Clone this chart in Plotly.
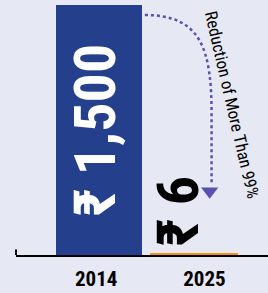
import plotly.graph_objects as go

years = ["2014", "2025"]
prices = [1500, 6]
price_labels = ["₹ 1,500", "₹ 6"]
bar_colors = ["#243F8C", "#F0901E"]
note_text = "Reduction of More Than 99%"

FONT = "Roboto Condensed, Roboto, Noto Sans, sans-serif"
BG = "#E6E8F3"
ARROW = "#5A50B0"

xs = list(range(len(years)))
bw = 0.905
x0_range = -0.874
x1_range = 1.779
ymax = 1530

fig = go.Figure()
fig.add_trace(go.Bar(
    x=xs, y=prices, width=bw,
    marker=dict(color=bar_colors, line=dict(color=bar_colors, width=[0, 2])),
    hoverinfo="skip", showlegend=False,
))

# dotted curved arrow from top of 2014 bar down to 2025 bar
v0 = prices[0]
sx, sy = xs[0] + bw / 2 + 0.03, v0 * 0.96
ex, ey = xs[1] + 0.185, v0 * 0.29
path = (f"M {sx},{sy} C {sx + 0.6},{sy} {ex},{v0 * 0.82} {ex},{v0 * 0.56} "
        f"L {ex},{ey}")
fig.add_shape(type="path", path=path, xref="x", yref="y",
              line=dict(color=ARROW, width=2.5, dash="dot"))
fig.add_trace(go.Scatter(
    x=[ex - 0.02], y=[v0 * 0.255], mode="markers",
    marker=dict(symbol="triangle-down", size=15, color=ARROW),
    hoverinfo="skip", showlegend=False,
))

# value labels
fig.add_annotation(x=xs[0], y=v0 * 0.5, text=price_labels[0], textangle=-90,
                   showarrow=False, xshift=-4,
                   font=dict(family=FONT, size=58, color="white", weight="bold"))
fig.add_annotation(x=xs[1], y=v0 * 0.176, text=price_labels[1], textangle=-90,
                   showarrow=False, xshift=-16,
                   font=dict(family=FONT, size=58, color="black", weight="bold"))
fig.add_annotation(x=xs[1] + 0.37, y=v0 * 0.6, xshift=3, text=note_text,
                   textangle=77, showarrow=False,
                   font=dict(family=FONT, size=17, color="black"))

# small left tick at the axis start
fig.add_shape(type="line", xref="x domain", yref="y domain",
              x0=0, x1=0, y0=0, y1=0.022, line=dict(color="black", width=2))

fig.update_layout(
    width=268, height=293,
    margin=dict(l=16, r=0, t=0, b=38),
    paper_bgcolor=BG, plot_bgcolor=BG,
    bargap=0,
    xaxis=dict(range=[x0_range, x1_range], tickvals=[xs[0] - 0.03, xs[1] + 0.11],
               ticktext=years, showgrid=False, zeroline=False,
               showline=True, linecolor="black", linewidth=2, ticks="",
               ticklabelstandoff=4,
               tickfont=dict(family=FONT, size=21, color="black", weight="bold"),
               fixedrange=True),
    yaxis=dict(range=[0, ymax], visible=False, fixedrange=True),
)

fig.write_html("out.html", config={"displayModeBar": False},
               post_script="document.body.style.margin='0';")
